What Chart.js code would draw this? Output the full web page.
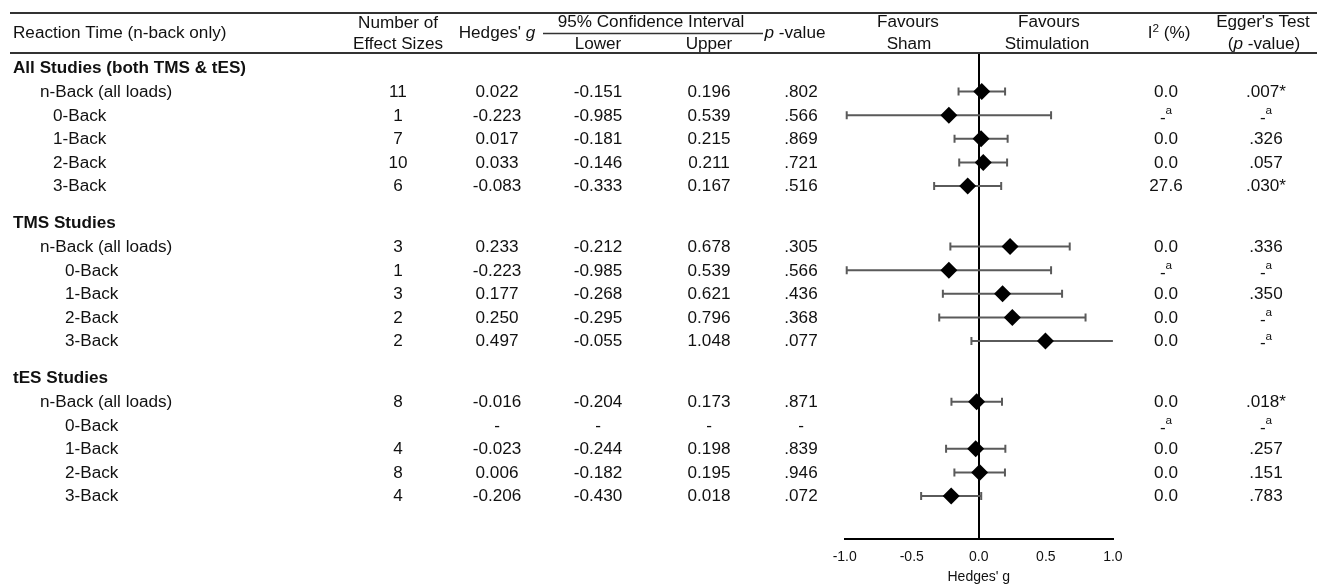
<!DOCTYPE html>
<html>
<head>
<meta charset="utf-8">
<script src="https://cdn.jsdelivr.net/npm/chart.js@4.4.1/dist/chart.umd.min.js"></script>
<style>
  html, body { margin: 0; padding: 0; background: #fff; }
  canvas { display: block; }
</style>
</head>
<body>
<canvas id="forest" width="1317" height="586"></canvas>
<script>
// ---- Meta-analysis results: reaction time, n-back only ----
const sectionTitles = ["All Studies (both TMS & tES)", "TMS Studies", "tES Studies"];
const loadLabels = ["n-Back (all loads)", "0-Back", "1-Back", "2-Back", "3-Back"];

// one entry per load row, section by section (All, TMS, tES)
const effectCounts = [11, 1, 7, 10, 6,   3, 1, 3, 2, 2,   8, null, 4, 8, 4];
const hedgesG      = [0.022, -0.223, 0.017, 0.033, -0.083,   0.233, -0.223, 0.177, 0.250, 0.497,   -0.016, null, -0.023, 0.006, -0.206];
const ciLower      = [-0.151, -0.985, -0.181, -0.146, -0.333,   -0.212, -0.985, -0.268, -0.295, -0.055,   -0.204, null, -0.244, -0.182, -0.430];
const ciUpper      = [0.196, 0.539, 0.215, 0.211, 0.167,   0.678, 0.539, 0.621, 0.796, 1.048,   0.173, null, 0.198, 0.195, 0.018];
const pValues      = [0.802, 0.566, 0.869, 0.721, 0.516,   0.305, 0.566, 0.436, 0.368, 0.077,   0.871, null, 0.839, 0.946, 0.072];
const iSquared     = [0.0, null, 0.0, 0.0, 27.6,   0.0, null, 0.0, 0.0, 0.0,   0.0, null, 0.0, 0.0, 0.0];
const eggerP       = [0.007, null, 0.326, 0.057, 0.030,   0.336, null, 0.350, null, null,   0.018, null, 0.257, 0.151, 0.783];
const axisTicks    = [-1.0, -0.5, 0.0, 0.5, 1.0];

// ---- layout helpers ----
const FONT = '"Liberation Sans", Arial, Helvetica, sans-serif';
const SX = 1.07;            // table text is set slightly wide
const TEXT_DY = 1;          // optical centring of text on its row
const SECTION_GAP = 0.57;   // extra space (in rows) between sections
const ROWS_PER_SECTION = 6; // heading + five loads
const INK = '#111';

function rowPos(section, r) { return section * (ROWS_PER_SECTION + SECTION_GAP) + r; }

const rows = [];
sectionTitles.forEach((title, s) => {
  loadLabels.forEach((lab, k) => {
    const i = s * loadLabels.length + k;
    rows.push({ section: s, load: k, label: lab, pos: rowPos(s, k + 1), i });
  });
});

const fmt3 = v => v.toFixed(3);
const fmtP = v => v.toFixed(3).replace(/^0/, '');
const fmtEgger = v => fmtP(v) + (v < 0.05 ? '*' : '');

// columns of the table (centre x)
const COL = { count: 398, g: 497, lower: 598, upper: 709, p: 801, i2: 1166, egger: 1266 };

function setFont(ctx, size, style) {
  ctx.font = (style || '') + ' ' + size + 'px ' + FONT;
}
function runWidth(ctx, runs, size) {
  let w = 0;
  runs.forEach(r => { setFont(ctx, r.size || size, r.style); w += ctx.measureText(r.t).width * SX; });
  return w;
}
// draw a sequence of text runs (mixed roman / italic / bold)
function drawRuns(ctx, runs, x, y, align, size) {
  const total = runWidth(ctx, runs, size);
  let cx = align === 'center' ? x - total / 2 : (align === 'right' ? x - total : x);
  runs.forEach(r => {
    setFont(ctx, r.size || size, r.style);
    ctx.save();
    ctx.translate(cx, y + TEXT_DY + (r.dy || 0));
    ctx.scale(SX, 1);
    ctx.textAlign = 'left';
    ctx.textBaseline = 'middle';
    ctx.fillStyle = INK;
    ctx.fillText(r.t, 0, 0);
    ctx.restore();
    cx += ctx.measureText(r.t).width * SX;
  });
}
function text(ctx, s, x, y, align, size, style) {
  drawRuns(ctx, [{ t: s, style }], x, y, align, size);
}
// "-ᵃ" marker for a value that could not be computed
function notComputed(ctx, x, y) {
  drawRuns(ctx, [{ t: '-', dy: 2 }, { t: 'a', size: 11, dy: -5 }], x, y, 'center', 16);
}

// ---- table text and rules ----
const tablePlugin = {
  id: 'forestTable',
  afterDraw(chart) {
    const ctx = chart.ctx;
    const y = chart.scales.y;
    const size = 16;

    // horizontal rules of the header
    ctx.save();
    ctx.strokeStyle = '#333';
    ctx.lineWidth = 2;
    ctx.beginPath();
    ctx.moveTo(10, 13); ctx.lineTo(1317, 13);
    ctx.moveTo(10, 53); ctx.lineTo(1317, 53);
    ctx.stroke();
    ctx.lineWidth = 1.5;
    ctx.beginPath();
    ctx.moveTo(543, 33.5); ctx.lineTo(763, 33.5);
    ctx.stroke();
    ctx.restore();

    // header text
    text(ctx, 'Reaction Time (n-back only)', 13, 33, 'left', size);
    text(ctx, 'Number of', COL.count, 23, 'center', size);
    text(ctx, 'Effect Sizes', COL.count, 44, 'center', size);
    drawRuns(ctx, [{ t: "Hedges' " }, { t: 'g', style: 'italic' }], COL.g, 33, 'center', size);
    text(ctx, '95% Confidence Interval', 651, 22, 'center', size);
    text(ctx, 'Lower', COL.lower, 44, 'center', size);
    text(ctx, 'Upper', COL.upper, 44, 'center', size);
    drawRuns(ctx, [{ t: 'p', style: 'italic' }, { t: ' -value' }], 795, 33, 'center', size);
    text(ctx, 'Favours', 908, 22, 'center', size);
    text(ctx, 'Sham', 909, 44, 'center', size);
    text(ctx, 'Favours', 1049, 22, 'center', size);
    text(ctx, 'Stimulation', 1047, 44, 'center', size);
    drawRuns(ctx, [{ t: 'I' }, { t: '2', size: 11, dy: -5 }, { t: ' (%)' }], 1169, 33, 'center', size);
    text(ctx, "Egger's Test", 1263, 22, 'center', size);
    drawRuns(ctx, [{ t: '(' }, { t: 'p', style: 'italic' }, { t: ' -value)' }], 1264, 44, 'center', size);

    // section headings
    sectionTitles.forEach((title, s) => {
      text(ctx, title, 13, y.getPixelForValue(rowPos(s, 0)), 'left', size, 'bold');
    });

    // body rows
    rows.forEach(r => {
      const py = y.getPixelForValue(r.pos);
      const indent = r.load === 0 ? 40 : (r.section === 0 ? 53 : 65);
      text(ctx, r.label, indent, py, 'left', size);
      const i = r.i;
      if (effectCounts[i] !== null) text(ctx, String(effectCounts[i]), COL.count, py, 'center', size);
      text(ctx, hedgesG[i] === null ? '-' : fmt3(hedgesG[i]), COL.g, py, 'center', size);
      text(ctx, ciLower[i] === null ? '-' : fmt3(ciLower[i]), COL.lower, py, 'center', size);
      text(ctx, ciUpper[i] === null ? '-' : fmt3(ciUpper[i]), COL.upper, py, 'center', size);
      text(ctx, pValues[i] === null ? '-' : fmtP(pValues[i]), COL.p, py, 'center', size);
      if (iSquared[i] === null) notComputed(ctx, COL.i2, py);
      else text(ctx, iSquared[i].toFixed(1), COL.i2, py, 'center', size);
      if (eggerP[i] === null) notComputed(ctx, COL.egger, py);
      else text(ctx, fmtEgger(eggerP[i]), COL.egger, py, 'center', size);
    });
  }
};

// ---- confidence-interval whiskers ----
const whiskerPlugin = {
  id: 'ciWhiskers',
  beforeDatasetsDraw(chart) {
    const { ctx, chartArea: a } = chart;
    const xs = chart.scales.x, ys = chart.scales.y;
    ctx.save();
    ctx.beginPath();
    ctx.rect(a.left - 2, a.top, a.right - a.left + 2, a.bottom - a.top);
    ctx.clip();
    ctx.strokeStyle = '#5a5a5a';
    ctx.lineWidth = 2;
    rows.forEach(r => {
      const i = r.i;
      if (ciLower[i] === null || ciUpper[i] === null) return;
      const py = ys.getPixelForValue(r.pos);
      const x1 = xs.getPixelForValue(ciLower[i]);
      const x2 = xs.getPixelForValue(ciUpper[i]);
      ctx.beginPath();
      ctx.moveTo(x1, py); ctx.lineTo(x2, py);
      ctx.moveTo(x1, py - 4); ctx.lineTo(x1, py + 4);
      ctx.moveTo(x2, py - 4); ctx.lineTo(x2, py + 4);
      ctx.stroke();
    });
    ctx.restore();
  }
};

const points = rows.filter(r => hedgesG[r.i] !== null).map(r => ({ x: hedgesG[r.i], y: r.pos }));

// y range: the row band runs from the header rule down to the axis
const Y_MIN = -0.5934, Y_MAX = 19.962;

new Chart(document.getElementById('forest'), {
  type: 'scatter',
  data: {
    datasets: [{
      data: points,
      pointStyle: 'rectRot',
      pointRadius: 8.5,
      pointHoverRadius: 8.5,
      backgroundColor: '#000',
      borderColor: '#000',
      borderWidth: 0
    }]
  },
  options: {
    responsive: false,
    animation: false,
    devicePixelRatio: 1,
    layout: { padding: { left: 844.7, right: 204.1, top: 54, bottom: 0 } },
    plugins: { legend: { display: false }, tooltip: { enabled: false } },
    events: [],
    scales: {
      x: {
        type: 'linear',
        min: axisTicks[0],
        max: axisTicks[axisTicks.length - 1],
        afterBuildTicks: s => { s.ticks = axisTicks.map(v => ({ value: v })); },
        afterFit: s => { s.height = 47; },
        ticks: {
          callback: v => Number(v).toFixed(1),
          color: INK,
          font: { family: FONT, size: 14 },
          padding: 10,
          maxRotation: 0
        },
        grid: {
          drawTicks: false,
          color: c => (c.tick && c.tick.value === 0) ? '#000' : 'rgba(0,0,0,0)',
          lineWidth: 2
        },
        border: { display: true, color: '#000', width: 2 },
        title: {
          display: true,
          text: "Hedges' g",
          color: INK,
          font: { family: FONT, size: 14 },
          padding: { top: 0, bottom: 0 }
        }
      },
      y: { type: 'linear', reverse: true, min: Y_MIN, max: Y_MAX, display: false }
    }
  },
  plugins: [whiskerPlugin, tablePlugin]
});
</script>
</body>
</html>
